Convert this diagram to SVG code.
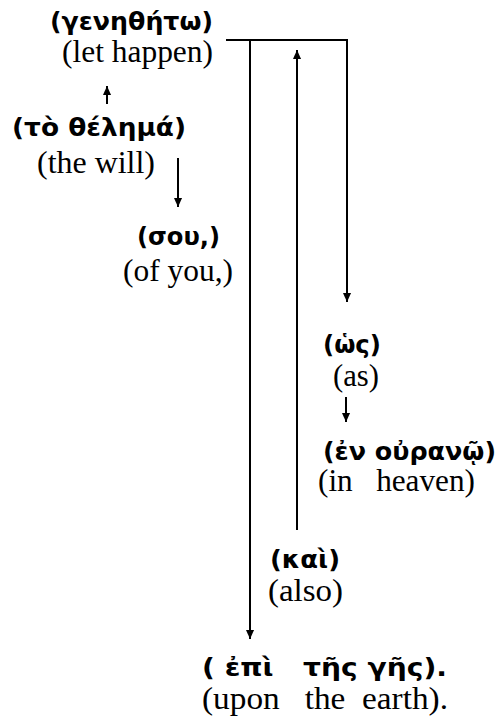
<svg xmlns="http://www.w3.org/2000/svg" width="498" height="719" viewBox="0 0 498 719">
<defs>
<marker id="ah" viewBox="0 0 10 10" refX="10" refY="5" markerWidth="10" markerHeight="9" markerUnits="userSpaceOnUse" orient="auto">
<path d="M0,0.5 L10,5 L0,9.5 Z" fill="#000"/>
</marker>
</defs>
<style>
.gr{font-family:"DejaVu Sans","Noto Sans",sans-serif;font-weight:bold;font-size:25px;fill:#000;white-space:pre}
.en{font-family:"Liberation Serif","Times New Roman",serif;font-size:31px;fill:#000;white-space:pre}
.ln{stroke:#000;stroke-width:2;fill:none}
.ar{stroke:#000;stroke-width:2;fill:none;marker-end:url(#ah)}
</style>
<g id="connectors">
<polyline class="ar" points="226,40 347,40 347,302"/>
<line class="ar" x1="250" y1="40" x2="250" y2="639"/>
<line class="ar" x1="297" y1="530" x2="297" y2="50"/>
<line class="ar" x1="107" y1="104" x2="107" y2="86"/>
<line class="ar" x1="178" y1="158" x2="178" y2="207"/>
<line class="ar" x1="346" y1="397" x2="346" y2="422"/>
</g>
<g id="n-genetheto">
<text class="gr" x="50" y="30" textLength="163" lengthAdjust="spacingAndGlyphs">(γενηθήτω)</text>
<text class="en" x="62" y="62" textLength="151" lengthAdjust="spacingAndGlyphs">(let happen)</text>
</g>
<g id="n-thelema">
<text class="gr" x="12" y="136" textLength="174" lengthAdjust="spacingAndGlyphs">(τὸ θέλημά)</text>
<text class="en" x="37" y="173" textLength="118" lengthAdjust="spacingAndGlyphs">(the will)</text>
</g>
<g id="n-sou">
<text class="gr" x="137" y="245" textLength="83" lengthAdjust="spacingAndGlyphs">(σου,)</text>
<text class="en" x="123" y="281" textLength="110" lengthAdjust="spacingAndGlyphs">(of you,)</text>
</g>
<g id="n-hos">
<text class="gr" x="323" y="353" textLength="58" lengthAdjust="spacingAndGlyphs">(ὡς)</text>
<text class="en" x="333" y="386" textLength="46" lengthAdjust="spacingAndGlyphs">(as)</text>
</g>
<g id="n-ouranw">
<text class="gr" x="323" y="460" textLength="173" lengthAdjust="spacingAndGlyphs">(ἐν οὐρανῷ)</text>
<text class="en" x="318" y="491" textLength="157" lengthAdjust="spacingAndGlyphs">(in   heaven)</text>
</g>
<g id="n-kai">
<text class="gr" x="270" y="568" textLength="70" lengthAdjust="spacingAndGlyphs">(καὶ)</text>
<text class="en" x="268" y="601" textLength="75" lengthAdjust="spacingAndGlyphs">(also)</text>
</g>
<g id="n-ges">
<text class="gr" x="202" y="676" textLength="245" lengthAdjust="spacingAndGlyphs">( ἐπὶ   τῆς γῆς).</text>
<text class="en" x="202" y="709" textLength="246" lengthAdjust="spacingAndGlyphs">(upon   the  earth).</text>
</g>
</svg>
